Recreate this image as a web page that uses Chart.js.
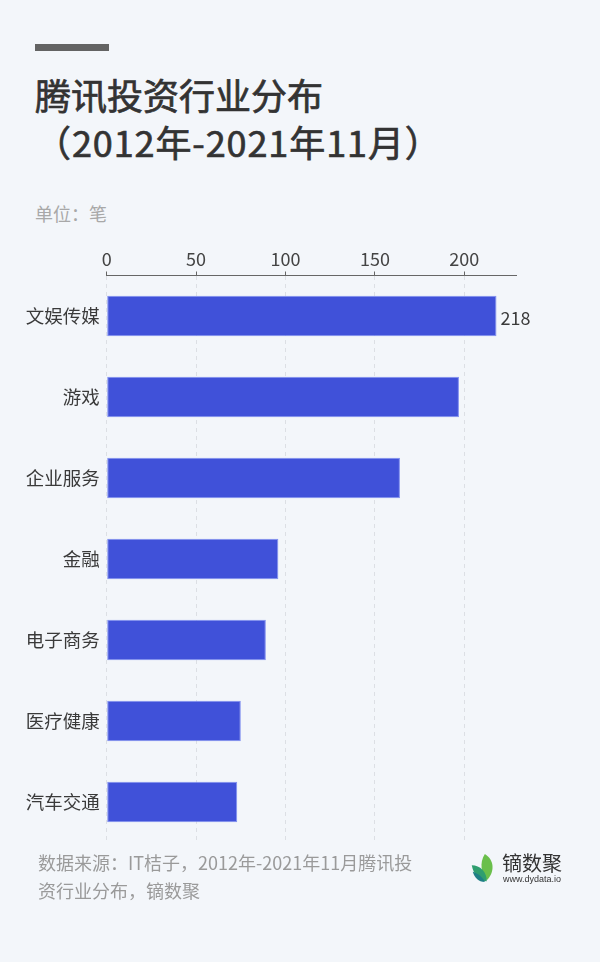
<!DOCTYPE html>
<html>
<head>
<meta charset="utf-8">
<script src="https://cdn.jsdelivr.net/npm/chart.js@4"></script>
<style>
  html, body { margin: 0; padding: 0; }
  body {
    width: 600px;
    height: 962px;
    position: relative;
    background: #f3f6fa;
    font-family: "Noto Sans CJK SC", "Noto Sans", sans-serif;
    overflow: hidden;
  }
  .topbar { position: absolute; left: 35px; top: 44px; width: 74px; height: 7px; background: #636363; }
  .title {
    position: absolute; left: 35px; top: 71px; margin: 0;
    font-size: 36px; line-height: 47px; font-weight: normal; color: #333;
    -webkit-text-stroke: 0.7px #333;
    white-space: nowrap;
  }
  .title span { letter-spacing: 0.9px; }
  .unit { position: absolute; left: 35px; top: 200px; font-size: 18px; line-height: 27px; color: #a8a8a8; }
  .chartBox { position: absolute; left: 0; top: 230px; width: 600px; height: 620px; }
  .source {
    position: absolute; left: 38px; top: 848px;
    font-size: 18px; line-height: 28px; color: #9a9a9a; white-space: nowrap;
  }
  .logo { position: absolute; left: 470px; top: 849px; }
  .logo svg { position: absolute; left: 0; top: 4px; }
  .logoName { position: absolute; left: 32px; top: 0; font-size: 20px; line-height: 28px; color: #333; white-space: nowrap; }
  .logoUrl { position: absolute; left: 33px; top: 25px; font-size: 9px; line-height: 11px; color: #333; font-family: "Liberation Sans", Arial, sans-serif; white-space: nowrap; }
</style>
</head>
<body>
<div class="topbar"></div>
<h1 class="title">腾讯投资行业分布<br><span>（2012年-2021年11月）</span></h1>
<div class="unit">单位：笔</div>
<div class="chartBox"><canvas id="industryChart"></canvas></div>
<div class="source">数据来源：IT桔子，2012年-2021年11月腾讯投<br>资行业分布，镝数聚</div>
<div class="logo">
  <svg width="26" height="30" viewBox="0 0 26 32">
    <path d="M15 1 C25 7 26 20 17 29 C11 22 9 10 15 1 Z" fill="#6abf4b"/>
    <path d="M1 13 C10 13 17 20 17 30 C9 30 3 23 1 13 Z" fill="#2f9e6f"/>
    <path d="M2 20 C8 22 13 26 15 31 C8 31 4 26 2 20 Z" fill="#1f7f86"/>
  </svg>
  <div class="logoName">镝数聚</div>
  <div class="logoUrl">www.dydata.io</div>
</div>

<script>
var categories = ["文娱传媒", "游戏", "企业服务", "金融", "电子商务", "医疗健康", "汽车交通"];
var dealCounts = [218, 197, 164, 96, 89, 75, 73];
var xTickValues = [0, 50, 100, 150, 200];
var labeledBars = [0];

var valueLabelPlugin = {
  id: "valueLabel",
  afterDatasetsDraw: function(chart) {
    var ctx = chart.ctx;
    var meta = chart.getDatasetMeta(0);
    ctx.save();
    ctx.font = "18px 'Noto Sans CJK SC'";
    ctx.fillStyle = "#3a3a3a";
    ctx.textAlign = "left";
    ctx.textBaseline = "middle";
    labeledBars.forEach(function(i) {
      var bar = meta.data[i];
      ctx.fillText(String(dealCounts[i]), bar.x + 4, bar.y + 2);
    });
    ctx.restore();
  }
};

new Chart(document.getElementById("industryChart"), {
  type: "bar",
  data: {
    labels: categories,
    datasets: [{
      data: dealCounts,
      backgroundColor: "#4051d9",
      borderColor: "#7f8ff0",
      borderWidth: 1,
      borderSkipped: false,
      barPercentage: 0.5,
      categoryPercentage: 1
    }]
  },
  options: {
    indexAxis: "y",
    responsive: true,
    maintainAspectRatio: false,
    animation: false,
    layout: { padding: { top: 0, left: 0, right: 83.3, bottom: 7.5 } },
    plugins: {
      legend: { display: false },
      tooltip: { enabled: false }
    },
    scales: {
      x: {
        position: "top",
        min: 0,
        max: 229.3,
        afterBuildTicks: function(scale) {
          scale.ticks = xTickValues.map(function(v) { return { value: v }; });
        },
        afterFit: function(scale) { scale.height = 45.5; },
        grid: {
          color: "#dcdfe4",
          tickColor: "#666",
          tickLength: 4,
          drawTicks: true
        },
        border: { display: true, color: "#666", width: 1, dash: [4, 4] },
        ticks: {
          padding: 2,
          maxRotation: 0,
          color: "#444",
          font: { family: "Noto Sans CJK SC", size: 18 }
        }
      },
      y: {
        afterFit: function(scale) {
          scale.width = 106.7;
          scale.paddingTop = 0;
          scale.paddingBottom = 0;
        },
        grid: { display: false, drawTicks: false },
        border: { display: false },
        ticks: {
          padding: 7,
          color: "#3a3a3a",
          font: { family: "Noto Sans CJK SC", size: 18.5 }
        }
      }
    }
  },
  plugins: [valueLabelPlugin]
});
</script>
</body>
</html>
